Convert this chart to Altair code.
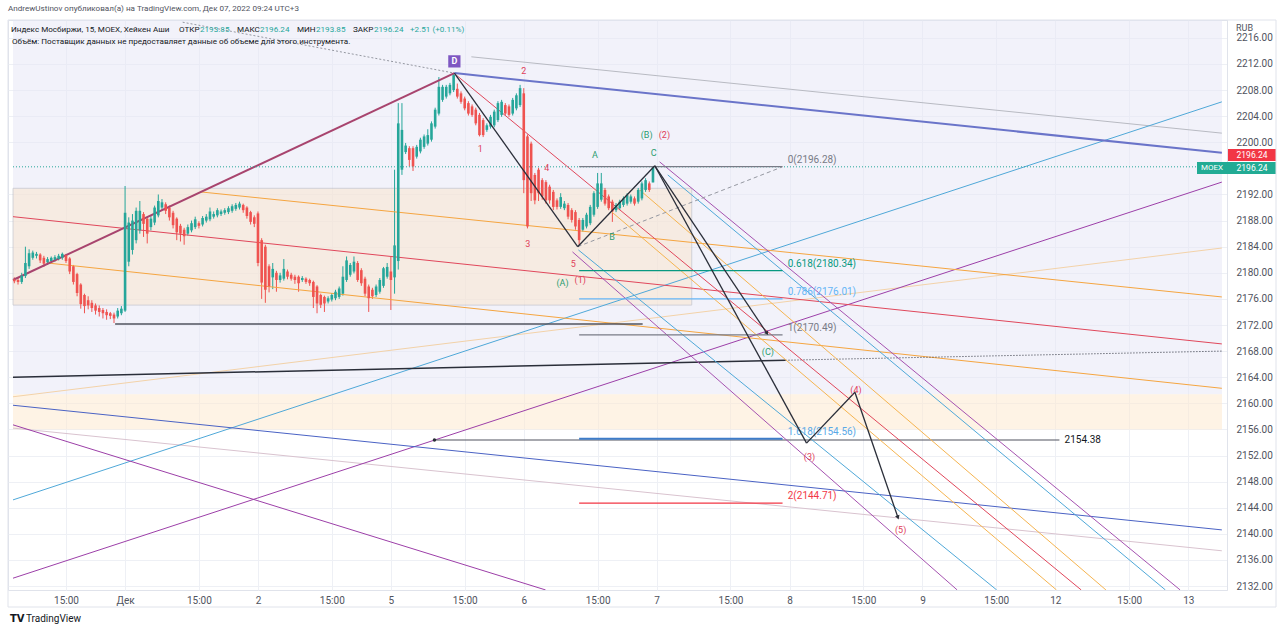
import altair as alt
import pandas as pd

# ---------------- data ----------------
# Heikin Ashi 15m candles (open, high, low, close), bar index 0 = Dec 1 10:00, 36 bars per session
nov30 = [(2179.0, 2179.3, 2178.4, 2178.7), (2178.9, 2179.2, 2178.2, 2178.6), (2178.6, 2180.0, 2178.3, 2179.6),
         (2179.5, 2184.0, 2179.2, 2181.5), (2181.0, 2183.6, 2180.6, 2183.0), (2182.3, 2183.4, 2182.0, 2183.1),
         (2182.6, 2183.2, 2182.2, 2182.9), (2182.8, 2183.0, 2181.5, 2181.9), (2182.3, 2182.6, 2180.9, 2181.4),
         (2181.6, 2182.4, 2181.2, 2182.1), (2181.8, 2182.5, 2181.5, 2182.3), (2182.0, 2182.7, 2181.7, 2182.4),
         (2182.1, 2182.9, 2181.9, 2182.6), (2182.3, 2183.1, 2182.0, 2182.9), (2182.7, 2182.9, 2181.5, 2181.8),
         (2182.2, 2182.4, 2179.8, 2180.2), (2181.0, 2181.2, 2178.2, 2178.6), (2179.8, 2180.0, 2176.4, 2176.9),
         (2178.2, 2178.4, 2174.5, 2175.2), (2176.6, 2176.8, 2173.8, 2174.9), (2175.8, 2176.4, 2174.4, 2175.0),
         (2175.4, 2175.8, 2174.0, 2174.6), (2175.0, 2175.3, 2173.6, 2174.2), (2174.6, 2175.0, 2173.3, 2174.0),
         (2174.3, 2174.6, 2173.0, 2173.8), (2174.0, 2174.4, 2172.8, 2173.5), (2173.8, 2174.0, 2172.9, 2173.4),
         (2173.6, 2173.9, 2172.3, 2173.0), (2173.3, 2174.6, 2173.0, 2174.2), (2173.8, 2174.9, 2173.5, 2174.5)]
dec01 = [(2174.2, 2193.3, 2174.0, 2189.2), (2181.7, 2188.5, 2181.0, 2187.7), (2183.5, 2189.0, 2182.8, 2188.0),
         (2185.0, 2190.0, 2184.5, 2189.5), (2186.5, 2191.0, 2186.0, 2189.5), (2189.0, 2189.3, 2185.5, 2187.5),
         (2188.3, 2188.6, 2184.5, 2186.0), (2187.0, 2188.8, 2186.5, 2188.3), (2187.7, 2190.3, 2187.3, 2190.0),
         (2188.8, 2192.0, 2188.5, 2191.0), (2190.0, 2191.3, 2189.6, 2190.8), (2190.5, 2190.8, 2189.0, 2189.5),
         (2190.0, 2190.3, 2188.0, 2188.5), (2189.2, 2189.5, 2186.8, 2187.3), (2188.3, 2188.5, 2185.0, 2186.2),
         (2187.2, 2187.5, 2184.8, 2186.0), (2186.6, 2186.9, 2184.3, 2185.6), (2186.0, 2187.4, 2185.7, 2187.0),
         (2186.5, 2188.0, 2186.2, 2187.6), (2187.0, 2188.6, 2186.7, 2188.2), (2187.6, 2187.9, 2186.8, 2187.2),
         (2187.4, 2188.7, 2187.1, 2188.4), (2188.0, 2189.0, 2187.7, 2188.6), (2188.2, 2190.0, 2187.9, 2189.4),
         (2188.6, 2189.4, 2188.3, 2189.0), (2188.8, 2189.9, 2188.5, 2189.6), (2189.0, 2189.7, 2188.7, 2189.4),
         (2189.2, 2189.9, 2188.9, 2189.6), (2189.3, 2190.2, 2189.0, 2189.9), (2189.5, 2190.5, 2189.2, 2190.2),
         (2189.8, 2190.7, 2189.5, 2190.4), (2190.0, 2190.9, 2189.7, 2190.6), (2190.4, 2190.6, 2189.2, 2189.6),
         (2190.0, 2190.2, 2188.3, 2188.7), (2189.3, 2189.5, 2187.4, 2187.8), (2188.5, 2188.8, 2187.0, 2187.5)]
dec02 = [(2189.1, 2189.4, 2181.0, 2181.5), (2185.0, 2185.3, 2176.0, 2178.5), (2184.0, 2184.3, 2175.4, 2177.4),
         (2181.0, 2181.3, 2177.0, 2177.9), (2179.3, 2181.5, 2177.5, 2180.6), (2180.0, 2180.3, 2177.1, 2178.9),
         (2178.9, 2180.0, 2178.5, 2179.6), (2179.1, 2182.1, 2178.8, 2180.6), (2180.2, 2180.5, 2179.0, 2179.4),
         (2179.7, 2180.0, 2178.8, 2179.1), (2179.4, 2179.7, 2178.3, 2178.9), (2179.4, 2179.6, 2177.1, 2178.4),
         (2178.9, 2179.5, 2178.6, 2179.2), (2179.1, 2179.3, 2178.3, 2178.6), (2178.9, 2179.1, 2178.0, 2178.4),
         (2178.6, 2178.8, 2174.6, 2176.3), (2177.9, 2178.1, 2173.8, 2175.3), (2176.6, 2176.8, 2174.6, 2175.1),
         (2176.3, 2176.5, 2174.0, 2175.3), (2175.6, 2176.4, 2175.3, 2176.1), (2175.9, 2176.9, 2175.6, 2176.6),
         (2176.1, 2177.4, 2175.8, 2177.1), (2176.3, 2177.9, 2176.0, 2177.6), (2176.8, 2181.0, 2176.5, 2179.4),
         (2178.9, 2182.5, 2178.6, 2181.9), (2179.7, 2181.5, 2179.4, 2181.2), (2180.2, 2182.5, 2179.9, 2181.7),
         (2181.5, 2181.8, 2178.6, 2178.9), (2180.4, 2180.7, 2178.0, 2178.4), (2179.1, 2179.4, 2176.4, 2176.8),
         (2177.9, 2178.2, 2174.0, 2176.1), (2177.4, 2177.7, 2176.0, 2176.4), (2176.6, 2178.2, 2176.3, 2177.9),
         (2177.1, 2179.2, 2176.8, 2178.9), (2178.0, 2180.9, 2177.7, 2180.7), (2179.4, 2181.5, 2179.1, 2180.9)]
dec05 = [(2180.2, 2182.5, 2174.3, 2178.9), (2179.3, 2195.8, 2176.8, 2184.2), (2181.8, 2206.0, 2180.5, 2202.9),
         (2195.8, 2206.0, 2195.0, 2201.9), (2198.5, 2199.9, 2198.2, 2199.5), (2199.1, 2199.4, 2196.3, 2197.3),
         (2199.1, 2199.4, 2195.6, 2196.3), (2197.8, 2199.6, 2197.5, 2199.3), (2198.6, 2200.7, 2198.3, 2200.4),
         (2199.3, 2201.2, 2199.0, 2200.9), (2199.8, 2202.0, 2199.5, 2201.1), (2200.4, 2203.2, 2200.1, 2202.9),
         (2202.4, 2205.3, 2202.1, 2205.0), (2204.4, 2210.0, 2204.1, 2208.5), (2206.5, 2208.8, 2206.2, 2208.5),
         (2207.0, 2208.8, 2206.7, 2208.5), (2207.5, 2209.1, 2207.2, 2208.8), (2208.0, 2210.6, 2207.7, 2210.3),
         (2208.2, 2209.0, 2206.7, 2207.0), (2207.5, 2207.8, 2205.9, 2206.2), (2206.7, 2207.0, 2204.9, 2205.2),
         (2206.0, 2206.3, 2204.1, 2204.4), (2205.5, 2205.8, 2203.9, 2204.2), (2205.0, 2205.3, 2202.6, 2202.9),
         (2204.2, 2204.5, 2200.9, 2201.1), (2203.4, 2203.7, 2200.8, 2201.1), (2201.9, 2202.9, 2201.6, 2202.6),
         (2202.4, 2204.2, 2202.1, 2203.9), (2202.6, 2205.0, 2202.3, 2204.7), (2203.4, 2206.3, 2203.1, 2206.0),
         (2204.2, 2206.5, 2203.9, 2206.2), (2205.7, 2206.0, 2204.1, 2204.4), (2205.5, 2205.8, 2203.9, 2204.2),
         (2204.4, 2206.8, 2204.1, 2206.5), (2205.2, 2207.5, 2204.9, 2207.2), (2205.7, 2208.8, 2205.4, 2208.3)]
dec06 = [(2207.5, 2208.3, 2192.2, 2194.2), (2200.9, 2201.2, 2186.8, 2187.1), (2199.8, 2200.1, 2191.0, 2192.2),
         (2195.0, 2195.3, 2190.5, 2191.1), (2195.8, 2196.1, 2191.0, 2192.2), (2194.2, 2194.5, 2191.2, 2191.7),
         (2193.9, 2194.2, 2190.6, 2191.1), (2193.2, 2193.5, 2190.6, 2191.1), (2192.4, 2192.7, 2189.6, 2190.1),
         (2191.1, 2191.4, 2189.7, 2190.1), (2190.1, 2192.2, 2189.8, 2191.6), (2189.9, 2191.0, 2189.6, 2190.6),
         (2190.4, 2190.7, 2188.2, 2188.6), (2189.6, 2189.9, 2187.7, 2188.1), (2189.3, 2189.6, 2186.6, 2187.1),
         (2188.1, 2188.4, 2184.2, 2185.0), (2186.6, 2188.4, 2186.3, 2188.1), (2187.1, 2189.2, 2186.8, 2188.9),
         (2187.6, 2190.4, 2187.3, 2190.1), (2188.9, 2192.5, 2188.6, 2192.2), (2190.1, 2195.3, 2189.8, 2193.7),
         (2191.2, 2195.3, 2190.9, 2193.7), (2192.7, 2193.0, 2190.3, 2190.6), (2191.7, 2192.0, 2189.6, 2189.9),
         (2190.9, 2191.2, 2187.8, 2189.4), (2189.6, 2190.7, 2189.3, 2190.4), (2189.9, 2191.2, 2189.6, 2190.9),
         (2190.4, 2191.7, 2190.1, 2191.4), (2190.6, 2192.2, 2190.3, 2191.9), (2190.9, 2192.0, 2190.6, 2191.7),
         (2191.4, 2191.7, 2190.3, 2190.6), (2190.9, 2193.0, 2190.6, 2192.7), (2191.4, 2194.0, 2191.1, 2193.7),
         (2192.7, 2194.5, 2192.4, 2194.2), (2193.7, 2194.0, 2192.4, 2192.7), (2193.85, 2196.24, 2193.85, 2196.24)]
session_starts = [-30, 0, 36, 72, 108]
sessions = [nov30, dec01, dec02, dec05, dec06]

# x-axis labels
day_ticks = [0, 36, 72, 108, 144, 180, 216, 252, 288]
day_labels = ["Дек", "2", "5", "6", "7", "8", "9", "12", "13"]
hour_ticks = [-16, 20, 56, 92, 128, 164, 200, 236, 272]
hour_label = "15:00"
# 2196.00 is hidden behind the last-price labels in the reference
price_ticks = [2132, 2136, 2140, 2144, 2148, 2152, 2156, 2160, 2164, 2168, 2172, 2176,
               2180, 2184, 2188, 2192, 2200, 2204, 2208, 2212, 2216]

# key wave points (bar, price)
D = (89.2, 2210.6)
LOW5 = (122.6, 2184.0)
C = (143.5, 2196.4)
C_TARGET = (173.8, 2170.8)
W3 = (184.6, 2153.9)
W4 = (197.7, 2161.7)
W5 = (209.3, 2142.6)

# drawn lines (bar, price) endpoints
maroon_up = [(-30.36, 2178.9), D]
blue_top = [D, (297.1, 2198.4)]
gray_top = [(93.8, 2213.1), (297.1, 2201.4)]
gray_dotted = [(15.6, 2218.4), D]
lightblue_up = [(-30.36, 2145.2), (297.1, 2206.2)]
purple_up = [(-30.36, 2133.2), (297.1, 2193.9)]
beige_up = [(-30.36, 2161.0), (297.1, 2183.8)]
dark_line = [(-30.36, 2164.0), (178.9, 2166.6)]
dark_dotted = [(178.9, 2166.6), (297.1, 2168.0)]
orange_hi = [(20.4, 2192.4), (297.1, 2176.3)]
red_mid = [(-30.36, 2188.6), (297.1, 2169.1)]
orange_lo = [(-21.0, 2181.5), (297.1, 2162.3)]
blue_down = [(-30.36, 2159.7), (297.1, 2140.6)]
faint_down = [(-30.36, 2156.2), (297.1, 2137.4)]
purple_down = [(-30.36, 2156.7), (113.9, 2131.4)]
low_line = [(-2.7, 2172.15), (140.2, 2172.15)]
level_2154 = [(83.8, 2154.38), (253.1, 2154.38)]
dashed_gray = [LOW5, (177.9, 2196.2)]
zig1 = [D, LOW5, C, C_TARGET]
zig2 = [C, W3, W4, W5]
steep_red = [(89.7, 2210.3), (259.0, 2131.4)]
steep_orange1 = [(131.9, 2189.3), (252.3, 2131.4)]
steep_orange2 = [(139.4, 2192.7), (265.7, 2131.4)]
steep_blue_up = [(147.0, 2195.0), (281.8, 2131.4)]
steep_purple_up = [(144.8, 2197.0), (285.8, 2131.4)]
steep_blue_lo = [(122.8, 2183.5), (236.1, 2131.4)]
steep_purple_lo = [(121.2, 2183.2), (225.4, 2131.4)]

# fib levels
fib_ratios = ["0", "0.618", "0.786", "1", "1.618", "2"]
fib_prices = [2196.28, 2180.34, 2176.01, 2170.49, 2154.56, 2144.71]
fib_x = (123.0, 178.1)

# shaded zones (bar range, price range)
box_x = (-30.36, 153.5)
box_y = (2175.05, 2192.95)
band_y = (2156.0, 2161.4)
lav_y = (2161.4, 2218.74)
last_price = 2196.24

# wave labels
wave_text = ["2", "1", "4", "3", "5", "(1)", "(2)", "(3)", "(4)", "(5)",
             "(A)", "A", "B", "C", "(B)", "(C)"]
wave_bar = [108.0, 96.2, 114.2, 109.1, 121.4, 123.3, 146.1, 185.4, 198.0, 210.1,
            118.5, 127.3, 131.9, 143.2, 141.3, 174.1]
wave_price = [2210.9, 2199.0, 2196.1, 2184.4, 2181.35, 2178.9, 2201.1, 2151.8, 2162.0, 2140.6,
              2178.4, 2198.05, 2185.5, 2198.4, 2201.1, 2167.9]
wave_kind = ["r"] * 10 + ["g"] * 6

header1 = "AndrewUstinov опубликовал(а) на TradingView.com, Дек 07, 2022 09:24 UTC+3"
header2 = [("Индекс Мосбиржи, 15, MOEX, Хейкен Аши", "k"), ("ОТКР", "k"), ("2193.85", "g"),
           ("МАКС", "k"), ("2196.24", "g"), ("МИН", "k"), ("2193.85", "g"), ("ЗАКР", "k"),
           ("2196.24", "g"), ("+2.51 (+0.11%)", "g")]
header2_x = [11, 179, 200, 237, 260, 297, 316, 353, 374, 410]
header3 = "Объём: Поставщик данных не предоставляет данные об объеме для этого инструмента."

# ---------------- chart ----------------
XMIN, XMAX = -30.36, 297.14
YMIN, YMAX = 2131.39, 2218.74
W, H = 1219, 570
FONT = "Roboto"
GREEN = "#26a69a"
RED = "#ef5350"
TXT = "#131722"

xs = alt.Scale(domain=[XMIN, XMAX], nice=False, zero=False)
ys = alt.Scale(domain=[YMIN, YMAX], nice=False, zero=False)

expr = ""
for t, lab in zip(day_ticks, day_labels):
    expr += f"datum.value == {t} ? '{lab}' : "
expr += f"'{hour_label}'"

xaxis = alt.Axis(values=sorted(day_ticks + hour_ticks), labelExpr=expr, grid=True, gridColor="#eef0f5",
                 ticks=False, domain=False, labelColor="#50535e", labelFontSize=10, labelFont=FONT,
                 labelPadding=5, title=None, labelOverlap=False)
yaxis = alt.Axis(orient="right", values=price_ticks, format=".2f", grid=True, gridColor="#eef0f5",
                 ticks=False, domain=True, domainColor="#e0e3eb", labelColor="#50535e", labelFontSize=10,
                 labelFont=FONT, labelPadding=9, title=None, labelOverlap=False)


def X(field):
    return alt.X(field, scale=xs, axis=xaxis)


def Y(field):
    return alt.Y(field, scale=ys, axis=yaxis)


rows = []
for start, sess in zip(session_starts, sessions):
    for k, (o, h, l, c) in enumerate(sess):
        rows.append({"bar": start + k, "o": o, "h": h, "l": l, "c": c})
candles = pd.DataFrame(rows)

col = alt.condition("datum.c >= datum.o", alt.value(GREEN), alt.value(RED))
wicks = alt.Chart(candles).mark_rule(strokeWidth=1).encode(x=X("bar:Q"), y=Y("l:Q"), y2="h:Q", color=col)
bodies = alt.Chart(candles).mark_bar(size=2.6).encode(x=X("bar:Q"), y=Y("o:Q"), y2="c:Q", color=col)


def zone(x0, x1, y0, y1, fill, opacity, stroke=None):
    df = pd.DataFrame({"x": [x0], "x2": [x1], "y": [y0], "y2": [y1]})
    kw = {"color": fill, "opacity": opacity}
    if stroke:
        kw.update(stroke=stroke, strokeWidth=1, strokeOpacity=0.8)
    return alt.Chart(df).mark_rect(**kw).encode(x=X("x:Q"), x2="x2:Q", y=Y("y:Q"), y2="y2:Q")


def path(points, color, width=1.0, dash=None, opacity=1.0):
    df = pd.DataFrame([{"x": a[0], "y": a[1], "x2": b[0], "y2": b[1]} for a, b in zip(points[:-1], points[1:])])
    kw = {"color": color, "strokeWidth": width, "opacity": opacity, "clip": True}
    if dash:
        kw["strokeDash"] = dash
    return alt.Chart(df).mark_rule(**kw).encode(x=X("x:Q"), y=Y("y:Q"), x2="x2:Q", y2="y2:Q")


def arrow_head(point, angle):
    df = pd.DataFrame({"x": [point[0]], "y": [point[1]]})
    return alt.Chart(df).mark_point(shape="triangle", size=22, filled=True, color="#2a2e39",
                                    opacity=1, angle=angle).encode(x=X("x:Q"), y=Y("y:Q"))


def ptext(txt, px, py, color=TXT, size=10, align="left", weight="normal", font=FONT):
    return alt.Chart(pd.DataFrame({"t": [txt]})).mark_text(
        align=align, baseline="middle", fontSize=size, font=font, color=color, fontWeight=weight).encode(
        x=alt.value(px - 8), y=alt.value(py - 20), text="t:N")


def prect(x0, x1, y0, y1, color, fill=True):
    if fill:
        kw = {"color": color}
    else:
        kw = {"stroke": color, "strokeWidth": 1, "fillOpacity": 0}
    return alt.Chart(pd.DataFrame({"a": [0]})).mark_rect(**kw).encode(
        x=alt.value(x0 - 8), x2=alt.value(x1 - 8), y=alt.value(y0 - 20), y2=alt.value(y1 - 20))


layers = [
    zone(XMIN, XMAX, lav_y[0], lav_y[1], "#e6e6f5", 0.5),
    zone(XMIN, XMAX, band_y[0], band_y[1], "#fde9cf", 0.55),
    zone(box_x[0], box_x[1], box_y[0], box_y[1], "#fde3c6", 0.45, stroke="#9598a1"),
    wicks,
    path(faint_down, "#d9c3cf", 1),
    path(beige_up, "#f3d2a8", 1),
    path(gray_top, "#b8bac2", 1),
    path(gray_dotted, "#9598a1", 1, dash=[2, 2]),
    path(lightblue_up, "#4fa8d8", 1),
    path(purple_up, "#9c3fa8", 1),
    path(orange_hi, "#f5a540", 1),
    path(red_mid, "#e0475b", 1),
    path(orange_lo, "#f5a540", 1),
    path(blue_down, "#4a62c4", 1),
    path(purple_down, "#9c3fa8", 1),
    path(dark_line, "#2a2e39", 1.5),
    path(dark_dotted, "#2a2e39", 1, dash=[1, 2]),
    path(low_line, "#50535e", 1.5),
    path(level_2154, "#50535e", 1.2),
    path(steep_red, "#e0475b", 1),
    path(steep_orange1, "#f5b450", 1),
    path(steep_orange2, "#f5b450", 1),
    path(steep_blue_up, "#4fa8d8", 1),
    path(steep_purple_up, "#a552b0", 1),
    path(steep_blue_lo, "#4fa8d8", 1),
    path(steep_purple_lo, "#a552b0", 1),
    path(maroon_up, "#a8446e", 2),
    path(blue_top, "#6a74c9", 2),
    path([(XMIN, last_price), (XMAX, last_price)], "#26a69a", 1, dash=[1, 2]),
    path(dashed_gray, "#9598a1", 1, dash=[4, 3]),
    bodies,
]

fib_colors = ["#787b86", "#089981", "#64b5f6", "#787b86", "#3d7cc9", "#f23645"]
fib_text_colors = ["#787b86", "#089981", "#64b5f6", "#787b86", "#5aa9e6", "#f23645"]
for r, p, c in zip(fib_ratios, fib_prices, fib_colors):
    layers.append(path([(fib_x[0], p), (fib_x[1], p)], c, 1.2 if r != "1.618" else 2))
fibdf = pd.DataFrame({"t": [f"{r}({p:.2f})" for r, p in zip(fib_ratios, fib_prices)],
                      "x": [fib_x[1] + 1.4] * 6, "y": [p + 1.07 for p in fib_prices], "c": fib_text_colors})
layers.append(alt.Chart(fibdf).mark_text(align="left", baseline="middle", fontSize=10, font=FONT).encode(
    x=X("x:Q"), y=Y("y:Q"), text="t:N", color=alt.Color("c:N", scale=None)))

layers += [path(zig1, "#2a2e39", 1.3), path(zig2, "#2a2e39", 1.3),
           arrow_head(C_TARGET, 146), arrow_head(W5, 161)]

# start dot and label of the 2154.38 line
layers.append(alt.Chart(pd.DataFrame({"x": [level_2154[0][0]], "y": [level_2154[0][1]]})).mark_circle(
    size=12, color="#2a2e39", opacity=1).encode(x=X("x:Q"), y=Y("y:Q")))
layers.append(alt.Chart(pd.DataFrame({"x": [level_2154[1][0] + 1.4], "y": [level_2154[1][1]], "t": ["2154.38"]})).mark_text(
    align="left", baseline="middle", fontSize=10, font=FONT, color=TXT).encode(x=X("x:Q"), y=Y("y:Q"), text="t:N"))

# wave labels
wdf = pd.DataFrame({"t": wave_text, "x": wave_bar, "y": wave_price,
                    "c": ["#e0405a" if k == "r" else "#2a9d6f" for k in wave_kind]})
layers.append(alt.Chart(wdf).mark_text(fontSize=9, font=FONT).encode(
    x=X("x:Q"), y=Y("y:Q"), text="t:N", color=alt.Color("c:N", scale=None)))

# D marker
ddf = pd.DataFrame({"x": [D[0]], "y": [D[1] + 1.8], "t": ["D"]})
layers.append(alt.Chart(ddf).mark_square(size=150, color="#7e57c2", opacity=1).encode(x=X("x:Q"), y=Y("y:Q")))
layers.append(alt.Chart(ddf).mark_text(fontSize=9, font=FONT, color="white", fontWeight="bold").encode(
    x=X("x:Q"), y=Y("y:Q"), text="t:N"))

# header texts
layers.append(ptext(header1, 8, 9, color="#50535e", size=8.1))
for (t, k), px in zip(header2, header2_x):
    layers.append(ptext(t, px, 30, color=(GREEN if k == "g" else TXT), size=8.1))
layers.append(ptext(header3, 12, 42, color=TXT, size=8.1))

# price scale labels
layers.append(ptext("RUB", 1236, 28, color="#50535e", size=9))
layers.append(prect(1228, 1276, 149, 161, "#f23645"))
layers.append(ptext("2196.24", 1252, 155, color="white", size=8.5, align="center"))
layers.append(prect(1197, 1276, 162, 174, "#22ab94"))
layers.append(ptext("MOEX", 1212, 168, color="white", size=8, align="center"))
layers.append(ptext("2196.24", 1252, 168, color="white", size=8.5, align="center"))

# outer frame and footer
layers.append(prect(8, 1276, 20, 607, "#e0e3eb", fill=False))
layers.append(ptext("TV", 10, 619, color=TXT, size=10, weight="bold", font="DejaVu Sans"))
layers.append(ptext("TradingView", 26, 619, color=TXT, size=10))

chart = alt.layer(*layers).properties(
    width=W, height=H, autosize=alt.AutoSizeParams(type="none"),
    padding={"left": 8, "top": 20, "right": 53, "bottom": 43},
    background="white",
).configure_view(stroke="#e0e3eb")

chart.save("out.html", embed_options={"renderer": "svg", "actions": False})
